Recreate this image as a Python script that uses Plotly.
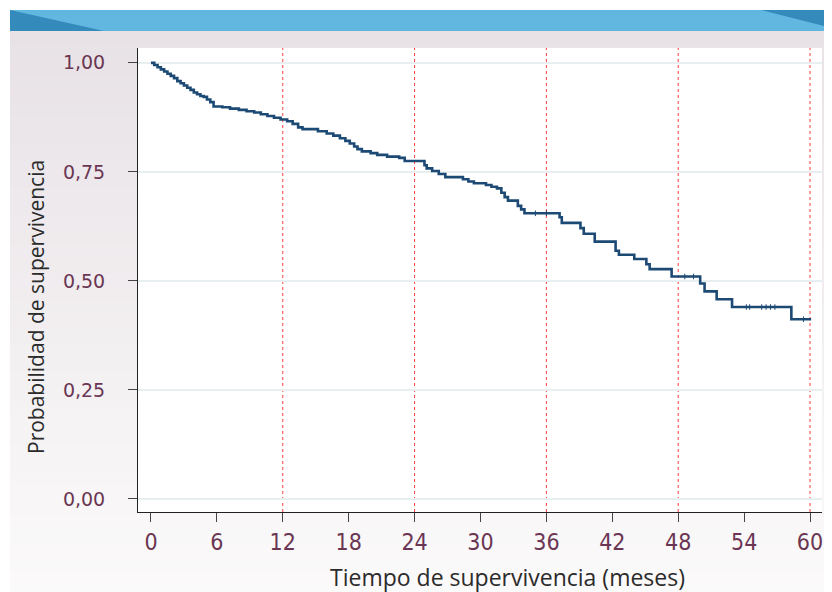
import plotly.graph_objects as go

# ---- data ----
times = [0, 0.3, 0.6, 0.9, 1.2, 1.5, 1.8, 2.1, 2.4, 2.7, 3.0, 3.3, 3.6, 3.9, 4.2, 4.5, 4.8, 5.1, 5.4, 5.7,
         6.5, 7.2, 8.0, 8.7, 9.4, 10.0, 10.6, 11.2, 11.8, 12.4, 12.9, 13.4, 13.8, 15.2, 16.0, 16.6, 17.2,
         17.7, 18.1, 18.5, 18.8, 19.2, 20.0, 20.6, 21.5, 22.6, 23.1, 24.9, 25.1, 25.6, 26.2, 26.8, 28.4,
         28.9, 29.4, 30.5, 31.0, 31.5, 31.9, 32.2, 32.5, 33.4, 33.7, 34.0, 37.2, 37.4, 39.1, 39.4, 40.4,
         42.3, 42.6, 44.0, 45.1, 45.4, 47.4, 50.0, 50.4, 51.5, 52.9, 58.3, 60.1]
survival = [1.000, 0.995, 0.990, 0.985, 0.980, 0.975, 0.970, 0.965, 0.958, 0.953, 0.948, 0.943, 0.938, 0.932,
            0.928, 0.924, 0.922, 0.916, 0.910, 0.900, 0.898, 0.895, 0.892, 0.889, 0.886, 0.882, 0.878, 0.874,
            0.870, 0.866, 0.860, 0.852, 0.848, 0.843, 0.838, 0.833, 0.827, 0.821, 0.815, 0.808, 0.802, 0.797,
            0.793, 0.789, 0.785, 0.782, 0.775, 0.765, 0.758, 0.752, 0.745, 0.738, 0.733, 0.728, 0.724, 0.720,
            0.716, 0.712, 0.702, 0.692, 0.684, 0.672, 0.664, 0.655, 0.646, 0.633, 0.621, 0.608, 0.590, 0.569,
            0.560, 0.550, 0.538, 0.527, 0.510, 0.494, 0.476, 0.458, 0.440, 0.412, 0.412]
censor_times = [35.0, 36.0, 48.6, 49.4, 54.2, 54.5, 55.6, 56.0, 56.4, 56.8, 59.4]
censor_surv = [0.655, 0.655, 0.510, 0.510, 0.440, 0.440, 0.440, 0.440, 0.440, 0.440, 0.412]

x_ticks = [0, 6, 12, 18, 24, 30, 36, 42, 48, 54, 60]
y_ticks = [0, 0.25, 0.5, 0.75, 1.0]
y_ticktext = ["0,00", "0,25", "0,50", "0,75", "1,00"]
ref_lines = [12, 24, 36, 48, 60]

x_title = "Tiempo de supervivencia (meses)"
y_title = "Probabilidad de supervivencia"

# ---- layout geometry (page pixels; the page body adds an 8 px offset) ----
OFF = 8
W, H = 832 - OFF, 592 - OFF
L, T = 138 - OFF, 48 - OFF
R = W - (822 - OFF)
B = H - (512 - OFF)
PW, PH = W - L - R, H - T - B


def px(xp):
    return (xp - OFF - L) / PW


def py(yp):
    return (H - B - (yp - OFF)) / PH


line_col = "#1d4a74"
tick_col = "#6a3653"

fig = go.Figure()
fig.add_trace(go.Scatter(x=times, y=survival, mode="lines", line=dict(color=line_col, width=2.6, shape="hv"),
                         hoverinfo="x+y", showlegend=False))
fig.add_trace(go.Scatter(x=censor_times, y=censor_surv, mode="markers",
                         marker=dict(symbol="line-ns", size=4, line=dict(color=line_col, width=1)),
                         showlegend=False))

shapes = []
# background gradient panel (stepped)
n = 40
top, bot = 31, 600
c0 = (232, 226, 230)
c1 = (251, 250, 250)
for i in range(n):
    y0 = top + (bot - top) * i / n
    y1 = top + (bot - top) * (i + 1) / n + 1
    f = i / (n - 1)
    c = tuple(int(round(c0[k] + (c1[k] - c0[k]) * f)) for k in range(3))
    shapes.append(dict(type="rect", xref="paper", yref="paper", x0=px(10), x1=px(840), y0=py(y1), y1=py(y0),
                       fillcolor="rgb(%d,%d,%d)" % c, line=dict(width=0), layer="below"))
# white plot area
shapes.append(dict(type="rect", xref="paper", yref="paper", x0=0, x1=1, y0=0, y1=1,
                   fillcolor="white", line=dict(width=0), layer="below"))
# banner
shapes.append(dict(type="rect", xref="paper", yref="paper", x0=px(10), x1=px(840), y0=py(31), y1=py(10),
                   fillcolor="#62b7e1", line=dict(width=0), layer="below"))
shapes.append(dict(type="path", xref="paper", yref="paper",
                   path="M %f %f L %f %f L %f %f Z" % (px(10), py(10), px(104), py(31), px(10), py(31)),
                   fillcolor="#338abb", line=dict(width=0), layer="below"))
shapes.append(dict(type="path", xref="paper", yref="paper",
                   path="M %f %f L %f %f L %f %f Z" % (px(761), py(10), px(840), py(10), px(840), py(30)),
                   fillcolor="#338abb", line=dict(width=0), layer="below"))
# red dotted reference lines
for v in ref_lines:
    shapes.append(dict(type="line", xref="x", yref="paper", x0=v, x1=v, y0=0, y1=1,
                       line=dict(color="#ff3b3b", width=1, dash="dot"), layer="below"))

fig.update_layout(
    width=W, height=H,
    margin=dict(l=L, r=R, t=T, b=B),
    paper_bgcolor="white",
    plot_bgcolor="rgba(0,0,0,0)",
    font=dict(family="DejaVu Sans", size=18, color=tick_col),
    shapes=shapes,
    showlegend=False,
    xaxis=dict(range=[-1.18, 61.09], tickvals=x_ticks, ticks="outside", ticklen=9, tickcolor="#444",
               showline=True, linecolor="#222", linewidth=1, showgrid=False, zeroline=False,
               tickfont=dict(family="Liberation Sans Narrow, DejaVu Sans Condensed, Roboto", size=23,
                             color=tick_col),
               ticklabelstandoff=0),
    yaxis=dict(range=[-0.030, 1.034], tickvals=y_ticks, ticktext=y_ticktext, ticks="outside", ticklen=9,
               tickcolor="#444", showline=True, linecolor="#222", linewidth=1,
               showgrid=True, gridcolor="#e8eff1", gridwidth=2, zeroline=False,
               tickfont=dict(family="DejaVu Sans", size=19, color=tick_col), ticklabelstandoff=19),
    annotations=[
        dict(text=x_title, xref="paper", yref="paper", x=px(507), y=py(577), xanchor="center",
             yanchor="middle", showarrow=False, font=dict(family="Open Sans", size=23, color="#2b2b2b")),
        dict(text=y_title, xref="paper", yref="paper", x=px(36), y=py(307), xanchor="center",
             yanchor="middle", textangle=-90, showarrow=False,
             font=dict(family="Open Sans", size=21, color="#2b2b2b")),
    ],
)

fig.write_html("out.html")
